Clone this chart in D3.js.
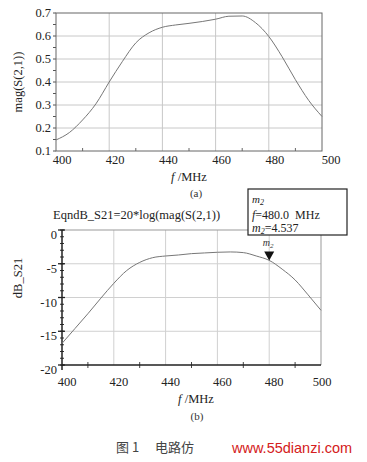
<!DOCTYPE html>
<html><head><meta charset="utf-8">
<script src="https://cdn.jsdelivr.net/npm/d3@7"></script>
<style>body{margin:0;background:#fff}svg{display:block}</style>
</head><body>
<svg id="c" width="367" height="462"></svg>
<script>
const freqs = [400,405,410,415,420,425,430,435,440,445,450,455,460,465,470,475,480,485,490,495,500];
const magS21 = [0.148,0.18,0.235,0.305,0.40,0.49,0.57,0.614,0.638,0.648,0.655,0.663,0.673,0.686,0.687,0.658,0.598,0.51,0.41,0.32,0.25];
const dBS21 = [-16.8,-14.6,-12.4,-10.1,-7.9,-6.0,-4.8,-4.1,-3.85,-3.7,-3.5,-3.4,-3.3,-3.25,-3.35,-3.85,-4.5,-5.8,-7.4,-9.6,-11.9];
const xTicks = [400,420,440,460,480,500];
const magTicks = [0.1,0.2,0.3,0.4,0.5,0.6,0.7];
const dBTicks = [0,-5,-10,-15,-20];
const markerFreq = 480, markerVal = -4.537;

const svg = d3.select("#c");
const serif = "'Liberation Serif','Times New Roman',serif";

// ---------- chart (a) ----------
const xa = d3.scaleLinear().domain([400,500]).range([56,322]);
const ya = d3.scaleLinear().domain([0.1,0.7]).range([151,13]);
const ga = svg.append("g");
ga.selectAll(".gx").data(xTicks.slice(1,-1)).enter().append("line")
  .attr("x1",d=>xa(d)).attr("x2",d=>xa(d)).attr("y1",ya(0.7)).attr("y2",ya(0.1))
  .attr("stroke","#c8c8c8").attr("stroke-width",1);
ga.selectAll(".gy").data(magTicks.slice(1,-1)).enter().append("line")
  .attr("x1",xa(400)).attr("x2",xa(500)).attr("y1",d=>ya(d)).attr("y2",d=>ya(d))
  .attr("stroke","#c8c8c8").attr("stroke-width",1);
ga.selectAll(".my").data(d3.range(0.1,0.7001,0.05)).enter().append("line")
  .attr("x1",xa(400)-3).attr("x2",xa(400)).attr("y1",d=>ya(d)).attr("y2",d=>ya(d))
  .attr("stroke","#555");
ga.selectAll(".mx").data(d3.range(410,500,20)).enter().append("line")
  .attr("x1",d=>xa(d)).attr("x2",d=>xa(d)).attr("y1",ya(0.1)-3).attr("y2",ya(0.1))
  .attr("stroke","#666");
ga.append("rect").attr("x",xa(400)).attr("y",ya(0.7)).attr("width",xa(500)-xa(400)).attr("height",ya(0.1)-ya(0.7))
  .attr("fill","none").attr("stroke","#666").attr("stroke-width",1);
ga.append("path").datum(freqs.map((f,i)=>[f,magS21[i]]))
  .attr("d",d3.line().x(d=>xa(d[0])).y(d=>ya(d[1])).curve(d3.curveMonotoneX))
  .attr("fill","none").attr("stroke","#777").attr("stroke-width",1);
ga.selectAll(".ty").data(magTicks).enter().append("text")
  .attr("x",51).attr("y",d=>ya(d)+4).attr("text-anchor","end")
  .attr("font-family",serif).attr("font-size",12.5).attr("fill","#222").text(d=>d.toFixed(1));
ga.selectAll(".tx").data(xTicks).enter().append("text")
  .attr("x",d=>d===500?xa(d)+9:xa(d)+6).attr("y",164).attr("text-anchor","middle")
  .attr("font-family",serif).attr("font-size",12.5).attr("fill","#222").text(d=>d);
ga.append("text").attr("transform","translate(22,82) rotate(-90)").attr("text-anchor","middle")
  .attr("font-family",serif).attr("font-size",12.5).attr("fill","#222").text("mag(S(2,1))");
const fa = ga.append("text").attr("x",189).attr("y",181).attr("text-anchor","middle")
  .attr("font-family",serif).attr("font-size",12.5).attr("fill","#222");
fa.append("tspan").attr("font-style","italic").text("f");
fa.append("tspan").text(" /MHz");
ga.append("text").attr("x",196).attr("y",197).attr("text-anchor","middle")
  .attr("font-family",serif).attr("font-size",11).attr("fill","#333").text("(a)");

// ---------- chart (b) ----------
const xb = d3.scaleLinear().domain([400,500]).range([62,321]);
const yb = d3.scaleLinear().domain([-20,0]).range([365,230]);
const gb = svg.append("g");
gb.selectAll(".gx").data(xTicks.slice(1,-1)).enter().append("line")
  .attr("x1",d=>xb(d)).attr("x2",d=>xb(d)).attr("y1",yb(0)).attr("y2",yb(-20))
  .attr("stroke","#d0d0d0");
gb.selectAll(".gy").data(dBTicks.slice(1,-1)).enter().append("line")
  .attr("x1",xb(400)).attr("x2",xb(500)).attr("y1",d=>yb(d)).attr("y2",d=>yb(d))
  .attr("stroke","#d0d0d0");
gb.append("path").attr("d",`M${xb(400)},${yb(0)}H${xb(500)}V${yb(-20)}`)
  .attr("fill","none").attr("stroke","#999");
gb.selectAll(".my").data(d3.range(-20,1,1)).enter().append("line")
  .attr("x1",xb(400)-2).attr("x2",xb(400)+2).attr("y1",d=>yb(d)).attr("y2",d=>yb(d))
  .attr("stroke","#333");
gb.selectAll(".My").data(dBTicks).enter().append("line")
  .attr("x1",xb(400)-4).attr("x2",xb(400)+3).attr("y1",d=>yb(d)).attr("y2",d=>yb(d))
  .attr("stroke","#222").attr("stroke-width",1.3);
gb.selectAll(".mx").data(d3.range(410,500,20)).enter().append("line")
  .attr("x1",d=>xb(d)).attr("x2",d=>xb(d)).attr("y1",yb(-20)-3).attr("y2",yb(-20)+3)
  .attr("stroke","#444");
gb.append("path").attr("d",`M${xb(400)},${yb(0)}V${yb(-20)}H${xb(500)}`)
  .attr("fill","none").attr("stroke","#222").attr("stroke-width",1.5);
gb.append("line").attr("x1",xb(400)).attr("x2",xb(400)).attr("y1",yb(-20)).attr("y2",yb(-20)+5)
  .attr("stroke","#222").attr("stroke-width",1.5);
gb.append("path").datum(freqs.map((f,i)=>[f,dBS21[i]]))
  .attr("d",d3.line().x(d=>xb(d[0])).y(d=>yb(d[1])).curve(d3.curveMonotoneX))
  .attr("fill","none").attr("stroke","#777").attr("stroke-width",1);
gb.selectAll(".ty").data(dBTicks).enter().append("text")
  .attr("x",57).attr("y",d=>yb(d)+9).attr("text-anchor","end")
  .attr("font-family",serif).attr("font-size",12.5).attr("fill","#222").text(d=>d);
gb.selectAll(".tx").data(xTicks).enter().append("text")
  .attr("x",d=>d===500?xb(d)+1:xb(d)+5).attr("y",386).attr("text-anchor","middle")
  .attr("font-family",serif).attr("font-size",12.5).attr("fill","#222").text(d=>d);
gb.append("text").attr("transform","translate(22,278) rotate(-90)").attr("text-anchor","middle")
  .attr("font-family",serif).attr("font-size",12.5).attr("fill","#222").text("dB_S21");
gb.append("text").attr("x",53).attr("y",219)
  .attr("font-family",serif).attr("font-size",12.5).attr("fill","#222").text("EqndB_S21=20*log(mag(S(2,1))");
const fb = gb.append("text").attr("x",196).attr("y",403).attr("text-anchor","middle")
  .attr("font-family",serif).attr("font-size",12.5).attr("fill","#222");
fb.append("tspan").attr("font-style","italic").text("f");
fb.append("tspan").text(" /MHz");
gb.append("text").attr("x",197).attr("y",420).attr("text-anchor","middle")
  .attr("font-family",serif).attr("font-size",11).attr("fill","#333").text("(b)");

const mx = xb(markerFreq), my = yb(markerVal);
gb.append("path").attr("d",`M${mx-5},${my-9}L${mx+5},${my-9}L${mx},${my}Z`).attr("fill","#111");
const ml = gb.append("text").attr("x",mx-1).attr("y",my-15).attr("text-anchor","middle")
  .attr("font-family",serif).attr("font-size",10).attr("font-style","italic").attr("fill","#333");
ml.append("tspan").text("m");
ml.append("tspan").attr("font-size",7).attr("dy",2).text("2");
gb.append("rect").attr("x",248).attr("y",189).attr("width",99).attr("height",46)
  .attr("fill","#fff").attr("stroke","#222").attr("stroke-width",1.2);
const t1 = gb.append("text").attr("x",252).attr("y",203).attr("font-family",serif).attr("font-size",11).attr("font-style","italic").attr("fill","#222");
t1.append("tspan").text("m");
t1.append("tspan").attr("font-size",8).attr("dy",2).text("2");
const t2 = gb.append("text").attr("x",252).attr("y",219).attr("font-family",serif).attr("font-size",12).attr("fill","#222");
t2.append("tspan").attr("font-style","italic").text("f");
t2.append("tspan").text("=" + markerFreq.toFixed(1) + "\u00a0\u00a0MHz");
const t3 = gb.append("text").attr("x",252).attr("y",232).attr("font-family",serif).attr("font-size",12).attr("fill","#222");
t3.append("tspan").attr("font-style","italic").text("m");
t3.append("tspan").attr("font-style","italic").attr("font-size",8).attr("dy",2).text("2");
t3.append("tspan").attr("dy",-2).text("=" + Math.abs(markerVal).toFixed(3));

svg.append("text").attr("x",116).attr("y",452)
  .attr("font-family","'Noto Sans CJK SC',sans-serif").attr("font-size",13).attr("fill","#444")
  .text("图 1\u3000 电路仿");
svg.append("text").attr("x",232).attr("y",453)
  .attr("font-family","'Liberation Sans',Arial,sans-serif").attr("font-size",14.5).attr("fill","#d42020")
  .text("www.55dianzi.com");
</script>
</body></html>
